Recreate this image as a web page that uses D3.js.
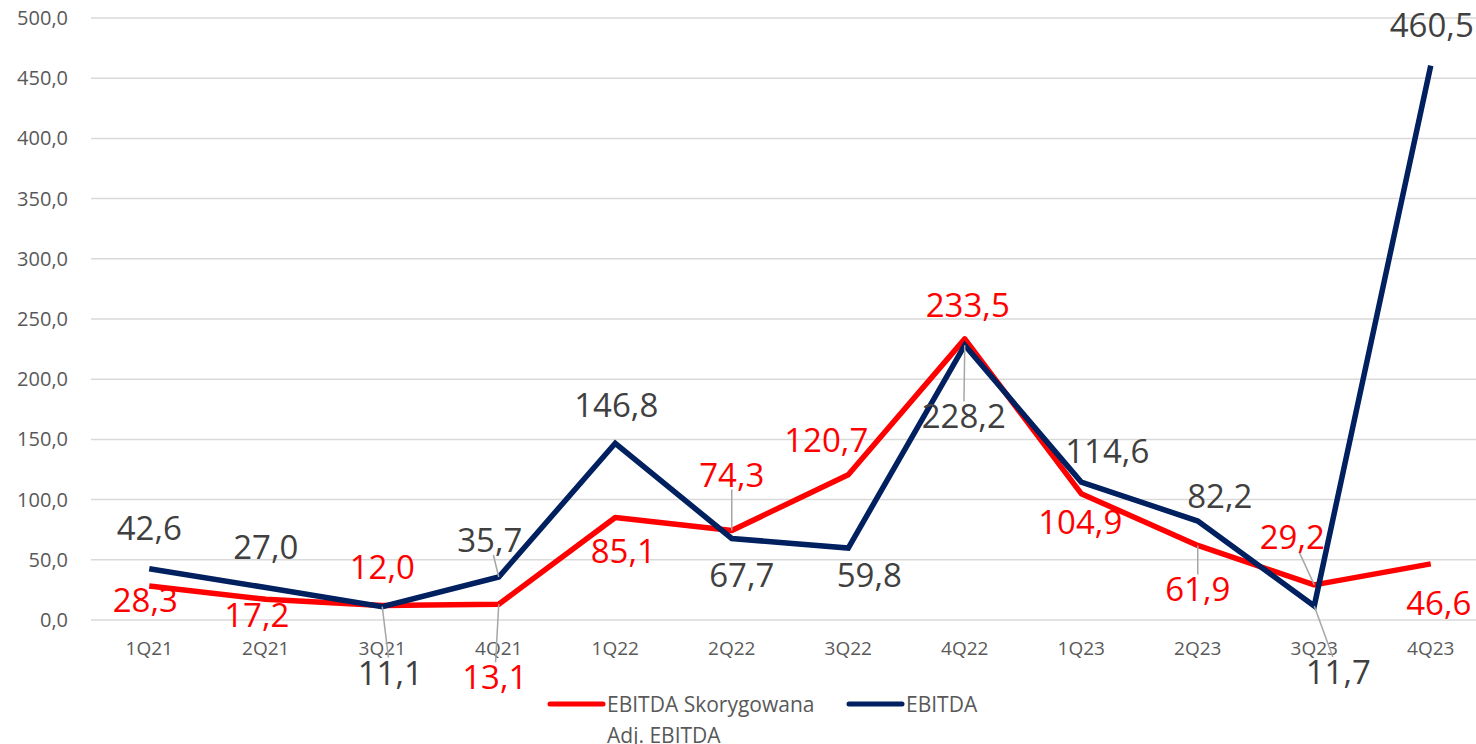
<!DOCTYPE html>
<html>
<head>
<meta charset="utf-8">
<script src="https://cdn.jsdelivr.net/npm/d3@7"></script>
<style>
  html, body { margin: 0; padding: 0; background: #fff; overflow: hidden; }
  svg { display: block; }
</style>
</head>
<body>
<div id="wrap"></div>
<script>
// quarters on the x axis
var quarters = ["1Q21", "2Q21", "3Q21", "4Q21", "1Q22", "2Q22", "3Q22", "4Q22", "1Q23", "2Q23", "3Q23", "4Q23"];

// EBITDA Skorygowana / Adj. EBITDA
var adjEbitda = [28.3, 17.2, 12.0, 13.1, 85.1, 74.3, 120.7, 233.5, 104.9, 61.9, 29.2, 46.6];

// EBITDA
var ebitda = [42.6, 27.0, 11.1, 35.7, 146.8, 67.7, 59.8, 228.2, 114.6, 82.2, 11.7, 460.5];

var yTicks = [0, 50, 100, 150, 200, 250, 300, 350, 400, 450, 500];

// label placement relative to the point: [dx, dy, leader]
var adjLabelPos = [
    [-4, 14, 0], [-9, 16, 0], [0, -39, 0], [-4, 73, 1], [8, 33, 0], [0, -56, 1],
    [-22, -35, 0], [3, -34, 0], [-1, 28, 0], [0, 44, 1], [-22, -48, 1], [8, 39, 0]
];
var ebitdaLabelPos = [
    [0, -41, 0], [0, -40, 0], [8, 66, 1], [-9, -37, 1], [1, -38, 0], [10, 37, 0],
    [21, 27, 0], [-1, 71, 1], [26, -31, 0], [22, -25, 0], [24, 66, 1], [1, -41, 0]
];

var width = 1476, height = 744;
var left = 91, bandW = 116.5;

var svg = d3.select("#wrap").append("svg")
    .attr("width", width)
    .attr("height", height)
    .style("font-family", "'Open Sans', sans-serif");

var x = d3.scaleBand()
    .domain(quarters)
    .range([left, left + bandW * quarters.length]);

var y = d3.scaleLinear()
    .domain([0, 500])
    .range([620, 18]);

var cx = function(i) { return x(quarters[i]) + x.bandwidth() / 2; };

// grid
svg.append("g").selectAll("line")
    .data(yTicks)
    .enter()
    .append("line")
    .attr("x1", left)
    .attr("x2", left + bandW * quarters.length)
    .attr("y1", function(d) { return y(d); })
    .attr("y2", function(d) { return y(d); })
    .attr("stroke", "#d9d9d9")
    .attr("stroke-width", 1.5);

// y axis labels
var yAxis = d3.axisLeft(y)
    .tickValues(yTicks)
    .tickSize(0)
    .tickPadding(0)
    .tickFormat(function(d) { return d3.format(".1f")(d).replace(".", ","); });

var gy = svg.append("g")
    .attr("transform", "translate(68,0)")
    .call(yAxis);
gy.select(".domain").remove();
gy.selectAll("text")
    .attr("fill", "#595959")
    .style("font-size", "20px")
    .style("font-family", "'Open Sans', sans-serif");

// x axis labels
var xAxis = d3.axisBottom(x).tickSize(0).tickPadding(0);
var gx = svg.append("g")
    .attr("transform", "translate(0,641)")
    .call(xAxis);
gx.select(".domain").remove();
gx.selectAll("text")
    .attr("fill", "#595959")
    .style("font-size", "19px")
    .style("font-family", "'Open Sans', sans-serif");

// lines
var line = d3.line()
    .x(function(d, i) { return cx(i); })
    .y(function(d) { return y(d); });

svg.append("path")
    .datum(adjEbitda)
    .attr("d", line)
    .attr("fill", "none")
    .attr("stroke", "#ff0000")
    .attr("stroke-width", 5.5)
    .attr("stroke-linejoin", "round");

svg.append("path")
    .datum(ebitda)
    .attr("d", line)
    .attr("fill", "none")
    .attr("stroke", "#002060")
    .attr("stroke-width", 5.5)
    .attr("stroke-linejoin", "miter");

// data labels with leader lines
var leaders = svg.append("g");
var labels = svg.append("g");

var drawLabels = function(values, pos, color) {
    values.forEach(function(v, i) {
        var px = cx(i), py = y(v);
        var lx = px + pos[i][0], ly = py + pos[i][1];
        var t = labels.append("text")
            .attr("x", lx)
            .attr("y", ly + 12)
            .attr("text-anchor", "middle")
            .attr("fill", color)
            .style("font-size", "33px")
            .text(d3.format(".1f")(v).replace(".", ","));

        if (pos[i][2]) {
            var bb = t.node().getBBox();
            var hw = bb.width / 2 + 2, hh = 12 + 3;
            var dx = px - lx, dy = py - ly;
            var s = Math.min(hw / Math.abs(dx || 1e-6), hh / Math.abs(dy || 1e-6));
            leaders.append("line")
                .attr("x1", lx + dx * s)
                .attr("y1", ly + dy * s)
                .attr("x2", px)
                .attr("y2", py)
                .attr("stroke", "#a6a6a6")
                .attr("stroke-width", 1.5);
        }
    });
};

drawLabels(adjEbitda, adjLabelPos, "#ff0000");
drawLabels(ebitda, ebitdaLabelPos, "#404040");

// legend
var legend = svg.append("g");
legend.append("line")
    .attr("x1", 550).attr("x2", 603).attr("y1", 704).attr("y2", 704)
    .attr("stroke", "#ff0000").attr("stroke-width", 5).attr("stroke-linecap", "round");
legend.append("text")
    .attr("x", 607).attr("y", 712)
    .attr("fill", "#595959").style("font-size", "21px")
    .text("EBITDA Skorygowana");
legend.append("text")
    .attr("x", 607).attr("y", 743)
    .attr("fill", "#595959").style("font-size", "21px")
    .text("Adj. EBITDA");
legend.append("line")
    .attr("x1", 849).attr("x2", 902).attr("y1", 704).attr("y2", 704)
    .attr("stroke", "#002060").attr("stroke-width", 5).attr("stroke-linecap", "round");
legend.append("text")
    .attr("x", 906).attr("y", 712)
    .attr("fill", "#595959").style("font-size", "21px")
    .text("EBITDA");
</script>
</body>
</html>
